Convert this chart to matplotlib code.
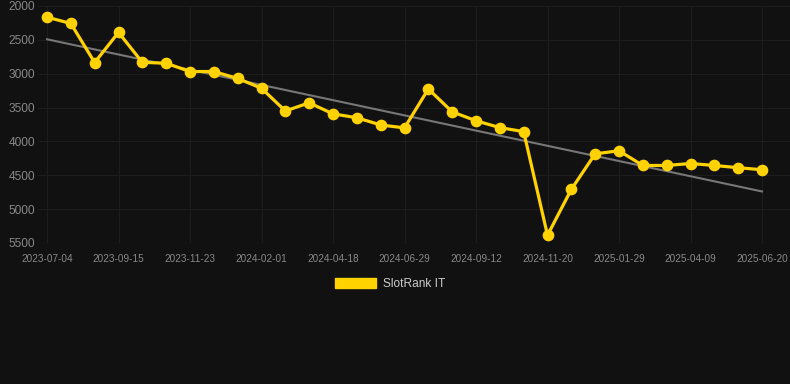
import numpy as np
import matplotlib
matplotlib.use("Agg")
import matplotlib.pyplot as plt
from matplotlib.patches import Patch

# tick labels shown on the category axis (every third point)
tick_labels = ["2023-07-04", "2023-09-15", "2023-11-23", "2024-02-01", "2024-04-18",
               "2024-06-29", "2024-09-12", "2024-11-20", "2025-01-29", "2025-04-09",
               "2025-06-20"]

# SlotRank IT rank values (lower is better, axis inverted)
rank = [2165, 2258, 2835, 2390, 2832, 2845, 2968, 2968, 3070, 3215,
        3550, 3430, 3593, 3650, 3757, 3800, 3225, 3563, 3695, 3796,
        3855, 5385, 4708, 4183, 4138, 4355, 4355, 4326, 4355, 4388,
        4418]

bg = "#111111"
gold = "#FFD200"

x = np.arange(len(rank))
slope, icpt = np.polyfit(x, rank, 1)
trend = slope * x + icpt

fig = plt.figure(figsize=(7.9, 3.84), dpi=100, facecolor=bg)
ax = fig.add_axes([38 / 790, 1 - 243 / 384, 752 / 790, 237 / 384], facecolor=bg)

step = 715 / 30
ax.set_xlim(-9 / step, 30 + 28 / step)
ax.set_ylim(5500, 2000)

ax.plot(x, trend, color="#777777", lw=1.5, zorder=2)
ax.plot(x, rank, color=gold, lw=2.3, marker="o", ms=7.4, mec=gold, mfc=gold, zorder=3)

ax.set_xticks(x[::3])
ax.set_xticklabels(tick_labels)
ax.set_yticks(np.arange(2000, 5501, 500))
ax.grid(True, color="#1d1d1d", lw=0.8)
ax.set_axisbelow(True)
for s in ax.spines.values():
    s.set_visible(False)
ax.axhline(5500, color="#2a2a2a", lw=0.8, zorder=1)
ax.tick_params(axis="both", length=0, colors="#888888")
ax.tick_params(axis="y", pad=2, labelsize=8.6)
ax.tick_params(axis="x", pad=8, labelsize=7.2)
for lab in ax.get_xticklabels() + ax.get_yticklabels():
    lab.set_family("Liberation Sans")

leg = fig.legend(handles=[Patch(facecolor=gold, edgecolor=gold)], labels=["SlotRank IT"],
                 loc="center", bbox_to_anchor=(390 / 790, 1 - 284 / 384), frameon=False,
                 handlelength=3.4, handleheight=1.0, handletextpad=0.6,
                 prop={"family": "Liberation Sans", "size": 8.6})
for t in leg.get_texts():
    t.set_color("#cccccc")

fig.savefig("out.png", facecolor=bg)
